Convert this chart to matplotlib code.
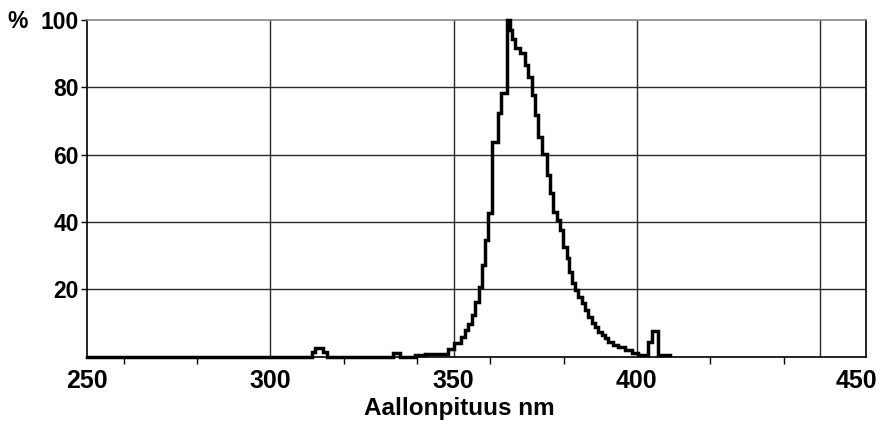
import matplotlib
matplotlib.use("Agg")
import matplotlib.pyplot as plt
from matplotlib.ticker import FixedLocator

plt.rcParams['font.family'] = ['Liberation Sans', 'DejaVu Sans']
plt.rcParams['font.weight'] = 'bold'

# Spectrum: left edge of each step (nm) and relative intensity (%)
wavelength = [250.0, 311.4, 312.3, 314.4, 315.5, 333.5, 335.4, 339.5, 342.2,
              348.5, 350.0, 351.9, 353.0, 354.0, 355.0, 355.9, 356.8, 357.7,
              358.6, 359.5, 360.6, 362.0, 363.0, 364.5, 365.5, 366.0, 366.8,
              368.1, 369.5, 370.4, 371.3, 372.2, 373.1, 374.0, 375.4, 376.3,
              377.1, 378.1, 379.0, 379.9, 380.8, 381.5, 382.4, 383.1, 383.9,
              385.0, 385.8, 386.6, 387.7, 388.5, 389.4, 390.5, 391.3, 392.1,
              393.5, 394.8, 396.7, 398.6, 400.3, 403.0, 404.1, 405.7, 409.0]
intensity = [0.0, 1.2, 2.4, 1.2, 0.0, 1.0, 0.0, 0.3, 0.8,
             2.3, 3.9, 5.7, 7.8, 9.8, 12.2, 16.1, 20.6, 27.2,
             34.6, 42.6, 63.6, 72.4, 78.4, 100.0, 97.0, 94.3, 91.8,
             90.3, 86.7, 83.2, 77.8, 71.8, 65.3, 60.2, 54.0, 48.6,
             43.0, 40.5, 37.6, 32.5, 29.2, 25.0, 21.8, 19.7, 17.6,
             15.8, 13.7, 11.6, 10.1, 8.7, 7.2, 6.3, 5.4, 4.2,
             3.3, 2.7, 1.8, 0.9, 0.3, 4.3, 7.6, 0.3, 0.3]

x_label_pos = [250, 300, 350, 400, 460]
x_labels = ["250", "300", "350", "400", "450"]
x_minor = [260, 280, 300, 320, 340, 360, 380, 400, 420, 440, 460]
x_grid = [300, 350, 400, 450]
y_ticks = [20, 40, 60, 80, 100]
y_labels = ["20", "40", "60", "80", "100"]

fig = plt.figure(figsize=(8.81, 4.24), dpi=100)
ax = fig.add_axes([87.0 / 881, 1 - 356.5 / 424, (865.7 - 87.0) / 881, (356.5 - 20.0) / 424])

ax.set_xlim(250.0, 462.4)
ax.set_ylim(0, 100)

grid_kw = dict(color='#2a2a2a', linewidth=1.0, zorder=1)
for g in x_grid:
    ax.axvline(g, **grid_kw)
for g in y_ticks[:-1]:
    ax.axhline(g, **grid_kw)

ax.step(wavelength, intensity, where='post', color='black', linewidth=2.5,
        solid_joinstyle='miter', clip_on=False, zorder=3)

ax.xaxis.set_major_locator(FixedLocator(x_label_pos))
ax.set_xticklabels(x_labels)
ax.xaxis.set_minor_locator(FixedLocator(x_minor))
ax.tick_params(axis='x', which='major', length=0, pad=9, labelsize=18)
ax.tick_params(axis='x', which='minor', length=5, width=1.0, direction='out', color='black')
ax.set_yticks(y_ticks)
ax.set_yticklabels(y_labels)
ax.tick_params(axis='y', which='major', length=4, width=1.0, pad=2, labelsize=16.5)

for lab in ax.get_xticklabels() + ax.get_yticklabels():
    lab.set_fontweight('bold')

for s in ['left', 'bottom', 'right']:
    ax.spines[s].set_color('black')
    ax.spines[s].set_linewidth(1.2)
ax.spines['top'].set_color('#888888')
ax.spines['top'].set_linewidth(1.2)

fig.text(18 / 881, 1 - 22 / 424, "%", fontsize=16.5, fontweight='bold', ha='center', va='center')
fig.text(459 / 881, 1 - 409 / 424, "Aallonpituus nm", fontsize=17.5, fontweight='bold',
         ha='center', va='center')

fig.savefig("out.png", dpi=100)
